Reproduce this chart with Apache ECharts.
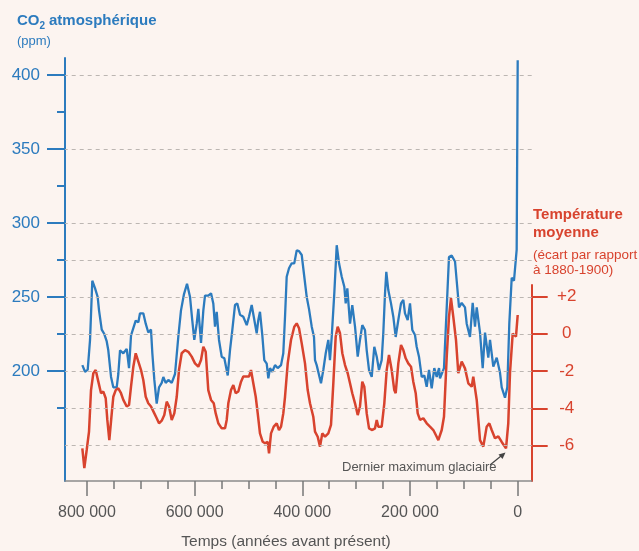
<!DOCTYPE html>
<html>
<head>
<meta charset="utf-8">
<script src="https://cdn.jsdelivr.net/npm/echarts@6/dist/echarts.min.js"></script>
<style>
html,body{margin:0;padding:0;background:#fcf4f0;}
#c{width:639px;height:551px;}
</style>
</head>
<body>
<div id="c"></div>
<script>
// Time in thousands of years before present (ka)
const co2Years = [808.5,803.5,798.5,794.2,790,785,780,777.5,772.5,767.7,763.2,760.3,755.2,751,744.7,741.7,738.5,732.4,726.1,721.8,718.1,713.8,709.4,704.5,701.4,695.3,690.8,686,681,678.5,674.8,670.4,666.1,661.1,658.1,653.7,648.8,642.5,636.4,630.3,625.3,619.7,614.1,608.5,604.3,600.6,596.1,593.1,588.1,583.8,580.7,574.6,569.5,565.3,562.1,559,554.7,549.7,544.8,541.7,538.5,534.3,530,525,520.7,515.7,509.6,503.2,499,494,489.1,484.7,481.7,478.6,474.3,470.6,466.1,463.1,460,455.7,450.7,445.7,439.5,435.3,432.1,429,424.7,419.7,414.9,410.4,406.1,401.1,396.3,391.8,387.6,382.5,378.3,376.4,373.3,370.3,365.3,361,356.5,351.7,348.6,345.4,340.6,336.1,331.8,326.8,322,319.4,316.4,311.4,307.2,302.1,297.1,292.9,288.6,283.6,280.4,276.1,271.1,266.3,261.8,257.6,252.6,249.6,246.4,244,240.3,235.3,231,226.6,221.7,216.7,212.4,209.3,204.3,200,195.7,190.7,187.6,183.3,178.3,173.4,169,164.7,159.7,154.9,150.4,146.1,144.3,136.9,131.8,127.6,122.6,116.4,113.3,109,104,97.9,94.7,88.6,83.6,79.3,76.1,70,65,60.7,54.6,51.4,45.3,39,32.9,29.7,23.6,19.3,15.6,11.1,6.9,1.9,0];
const co2Values = [204,199.5,201,221,261,256,250,241,228,225,220,214,196,189,189,198,214,212,215,202,224,229,234,233,239,239,232,226,228,212,194,178,189,192,196,192,194,192,198,223,241,252,259,250,234,221,232,242,219,241,251,251,252.5,245.7,230,240,221,209.7,208.6,208.6,197,214,227.7,244.6,245.7,238,236.7,231,236.7,244.6,234.5,225.5,234.5,240,224.3,207.4,205,195,202,199.5,204,202,204,212,236.7,263.7,269.4,272.8,272.8,281.5,281,278.4,263.7,250,242,230,223,207.4,204,204,191.7,200.7,212,221,207.4,223,252.5,285,272.8,263.7,257,245.7,255.9,232,244.6,230,209.7,221,231,227.7,214,200.7,196,216.4,209.7,200.7,207.4,225.5,252.5,267,254.7,245.7,236.7,223,234.5,245.7,248,239,234.5,245.7,227.7,224.3,216.4,209.7,196,197,189.4,200.7,188.3,202,196,202,195,202,243,277,278,274,261,243,246,243,232,223,246,230,243,226,202,226,209,221,203,209,199,189,182,189,232,263,261,282,410];

const tempYears = [808.5,804.8,800.4,796.1,792.4,788.1,783.7,778.8,773.8,769.5,765.1,762.1,758.4,753.9,751,746.5,741.7,736.7,732.4,726.1,721.8,718.1,713.8,709.4,704.5,699.5,695.3,690.8,686,681,674.8,670.4,666.1,661.1,656.3,651.8,647.5,642.5,637.7,633.2,629,624,617.8,611.7,605.4,599.3,593.1,588.1,583.8,579.4,574.6,569.5,564.5,560.8,556,549.7,543.5,540.4,537.4,532.4,528.1,523.7,518.8,513.8,509.6,503.2,499,495.3,491,486.5,482.8,478.6,473.5,469.3,464.3,461.8,458.1,453.1,447.5,443.3,439.5,435.3,432.1,427.1,421,414.9,410.4,406.1,401.1,395,390,385.7,379.6,376.4,371.4,367.1,362.9,357.8,351.7,346.7,342.4,338,334.3,330,325.7,320.7,315.7,311.4,307.2,302.1,297.1,292.9,288.6,284.9,280.4,276.1,270,265,261.8,258.9,252.6,247.7,243.3,239,234,229.2,226.6,221.7,216.7,212.4,208,203.2,198.1,193.9,189.4,185.7,181.4,175.3,169,162.9,156.7,150.4,147.4,141.1,136.9,131.8,127.6,123.9,119.6,114.6,110.3,104,97.9,91.7,85.4,82.5,76.1,70,63.9,57.6,52.7,48.3,42.2,36,29.7,21.7,17.5,14.3,9.3,3.2,0];
const tempValues = [-6.14,-7.2,-6.23,-5.25,-3.02,-2.12,-1.95,-2.57,-3.19,-3.1,-3.46,-4.62,-5.7,-4.27,-3.38,-3.02,-2.93,-3.19,-3.55,-3.9,-3.82,-2.84,-1.77,-1.05,-1.5,-1.95,-2.48,-3.38,-3.73,-3.9,-4.27,-4.53,-4.8,-4.66,-4.36,-3.64,-3.9,-4.62,-4.27,-3.38,-1.95,-1.05,-0.88,-0.97,-1.23,-1.59,-1.77,-1.41,-0.7,-0.97,-3.02,-3.55,-3.73,-4.27,-4.8,-5.07,-5.07,-4.62,-3.73,-3.02,-2.75,-3.19,-3.1,-2.57,-2.3,-2.3,-2.3,-1.95,-2.66,-3.38,-4.27,-5.34,-5.79,-5.87,-5.79,-6.41,-5.34,-4.98,-4.8,-5.16,-4.98,-4.27,-3.38,-1.59,-0.34,0.37,0.55,0.29,-0.52,-1.59,-3.02,-3.73,-4.45,-5.25,-5.52,-6.05,-5.34,-5.52,-5.34,-4.89,-2.66,-0.16,0.37,0.02,-1.05,-1.68,-2.12,-2.66,-3.19,-3.73,-4.36,-3.9,-2.57,-2.84,-4.27,-5.07,-5.16,-5.07,-4.62,-4.98,-4.98,-3.73,-1.95,-1.14,-1.95,-3.02,-3.19,-1.59,-0.61,-0.88,-1.32,-1.59,-1.77,-2.57,-3.19,-4.27,-4.62,-4.53,-4.8,-4.98,-5.16,-5.52,-5.7,-5.16,-4.45,-1.23,0.9,1.9,0.9,-0.34,-2.12,-1.5,-1.86,-2.66,-2.84,-2.3,-3.55,-5.7,-6.05,-4.98,-4.8,-5.16,-5.6,-5.5,-5.8,-6.14,-4.8,-2.1,0,-0.16,1.0];

const xMajorTicks = [0,200,400,600,800];
const xMinorTicks = [50,100,150,250,300,350,450,500,550,650,700,750];
const co2MajorTicks = [200,250,300,350,400];
const co2MinorTicks = [175,225,275,325,375];
const tempTicks = [-6,-4,-2,0,2];
const gridValues = [150,175,200,225,250,275,300,350,400];

const BLUE = '#2c7bbe';
const RED = '#d8432e';
const GREY = '#555555';
const FONT = 'Liberation Sans, Arial, sans-serif';

const co2Data = co2Years.map((y, i) => [y, co2Values[i]]);
const tempData = tempYears.map((y, i) => [y, tempValues[i]]);

const chart = echarts.init(document.getElementById('c'), null, {renderer: 'canvas'});
chart.setOption({
  backgroundColor: '#fcf4f0',
  animation: false,
  textStyle: {fontFamily: FONT},
  grid: [
    {left: 65, top: 58, width: 466.7, height: 423},
    {left: 65, top: 285, width: 466.7, height: 196}
  ],
  xAxis: [
    {
      gridIndex: 0, type: 'value', inverse: true, min: -26, max: 840.7, position: 'bottom',
      axisLine: {show: true, onZero: false, lineStyle: {color: '#8a8a8a', width: 1.5}},
      axisTick: {show: true, customValues: xMajorTicks, length: 15, lineStyle: {color: '#777', width: 1.5}},
      axisLabel: {show: true, customValues: xMajorTicks, margin: 24, fontSize: 16, color: GREY, fontFamily: FONT,
        formatter: v => v === 0 ? '0' : v + ' 000'},
      splitLine: {show: false}
    },
    {
      gridIndex: 1, type: 'value', inverse: true, min: -26, max: 840.7, position: 'bottom',
      axisLine: {show: false, onZero: false},
      axisTick: {show: true, customValues: xMinorTicks, length: 8, lineStyle: {color: '#777', width: 1.5}},
      axisLabel: {show: false},
      splitLine: {show: false}
    }
  ],
  yAxis: [
    {
      gridIndex: 0, type: 'value', position: 'left', min: 125.7, max: 411.5,
      axisLine: {show: true, onZero: false, lineStyle: {color: BLUE, width: 2}},
      axisTick: {show: true, customValues: co2MajorTicks, length: 18, lineStyle: {color: BLUE, width: 2}},
      axisLabel: {show: true, customValues: co2MajorTicks, margin: 25, fontSize: 17, color: BLUE, fontFamily: FONT},
      splitLine: {show: false}
    },
    {
      gridIndex: 0, type: 'value', position: 'left', min: 125.7, max: 411.5,
      axisLine: {show: false, onZero: false},
      axisTick: {show: true, customValues: co2MinorTicks, length: 8, lineStyle: {color: BLUE, width: 2}},
      axisLabel: {show: false},
      splitLine: {show: false}
    },
    {
      gridIndex: 1, type: 'value', position: 'right', min: -7.89, max: 2.605,
      axisLine: {show: true, onZero: false, lineStyle: {color: RED, width: 2}},
      axisTick: {show: true, customValues: tempTicks, length: 16, lineStyle: {color: RED, width: 2}},
      axisLabel: {show: true, customValues: tempTicks, margin: 35, align: 'center', fontSize: 17, color: RED, fontFamily: FONT,
        formatter: v => v > 0 ? '+' + v : String(v)},
      splitLine: {show: false}
    }
  ],
  series: [
    {
      type: 'line', xAxisIndex: 0, yAxisIndex: 0, data: [[0, 150]], symbol: 'none', silent: true, z: 1,
      lineStyle: {opacity: 0},
      markLine: {
        silent: true, symbol: ['none', 'none'], label: {show: false}, animation: false,
        lineStyle: {color: '#bcb6b2', type: [4, 4], width: 1},
        emphasis: {disabled: true},
        data: gridValues.map(v => ({yAxis: v}))
      }
    },
    {
      name: 'CO2', type: 'line', xAxisIndex: 0, yAxisIndex: 0, data: co2Data, symbol: 'none', z: 3,
      lineStyle: {color: BLUE, width: 2.3}, itemStyle: {color: BLUE}
    },
    {
      name: 'Température', type: 'line', xAxisIndex: 1, yAxisIndex: 2, data: tempData, symbol: 'none', z: 4,
      lineStyle: {color: RED, width: 2.5}, itemStyle: {color: RED}
    }
  ],
  graphic: [
    {type: 'text', left: 17, top: 13, style: {text: 'CO', font: 'bold 15px ' + FONT, fill: BLUE}},
    {type: 'text', left: 39.5, top: 21, style: {text: '2', font: 'bold 10px ' + FONT, fill: BLUE}},
    {type: 'text', left: 49, top: 13, style: {text: 'atmosphérique', font: 'bold 15px ' + FONT, fill: BLUE}},
    {type: 'text', left: 17, top: 35, style: {text: '(ppm)', font: '13px ' + FONT, fill: BLUE}},
    {type: 'text', left: 533, top: 207, style: {text: 'Température', font: 'bold 15px ' + FONT, fill: RED}},
    {type: 'text', left: 533, top: 225, style: {text: 'moyenne', font: 'bold 15px ' + FONT, fill: RED}},
    {type: 'text', left: 533, top: 248, style: {text: '(écart par rapport', font: '13.5px ' + FONT, fill: RED}},
    {type: 'text', left: 533, top: 263, style: {text: 'à 1880-1900)', font: '13.5px ' + FONT, fill: RED}},
    {type: 'text', left: 342, top: 461, style: {text: 'Dernier maximum glaciaire', font: '13px ' + FONT, fill: GREY}},
    {type: 'line', shape: {x1: 490, y1: 465, x2: 501, y2: 456}, style: {stroke: '#444', lineWidth: 1.2}},
    {type: 'polygon', shape: {points: [[505.5, 452.5], [498.5, 454.5], [502.5, 459]]}, style: {fill: '#444'}},
    {type: 'text', x: 286, y: 542, style: {text: 'Temps (années avant présent)', font: '15.5px ' + FONT, fill: GREY, align: 'center', verticalAlign: 'middle'}}
  ]
});
</script>
</body>
</html>
